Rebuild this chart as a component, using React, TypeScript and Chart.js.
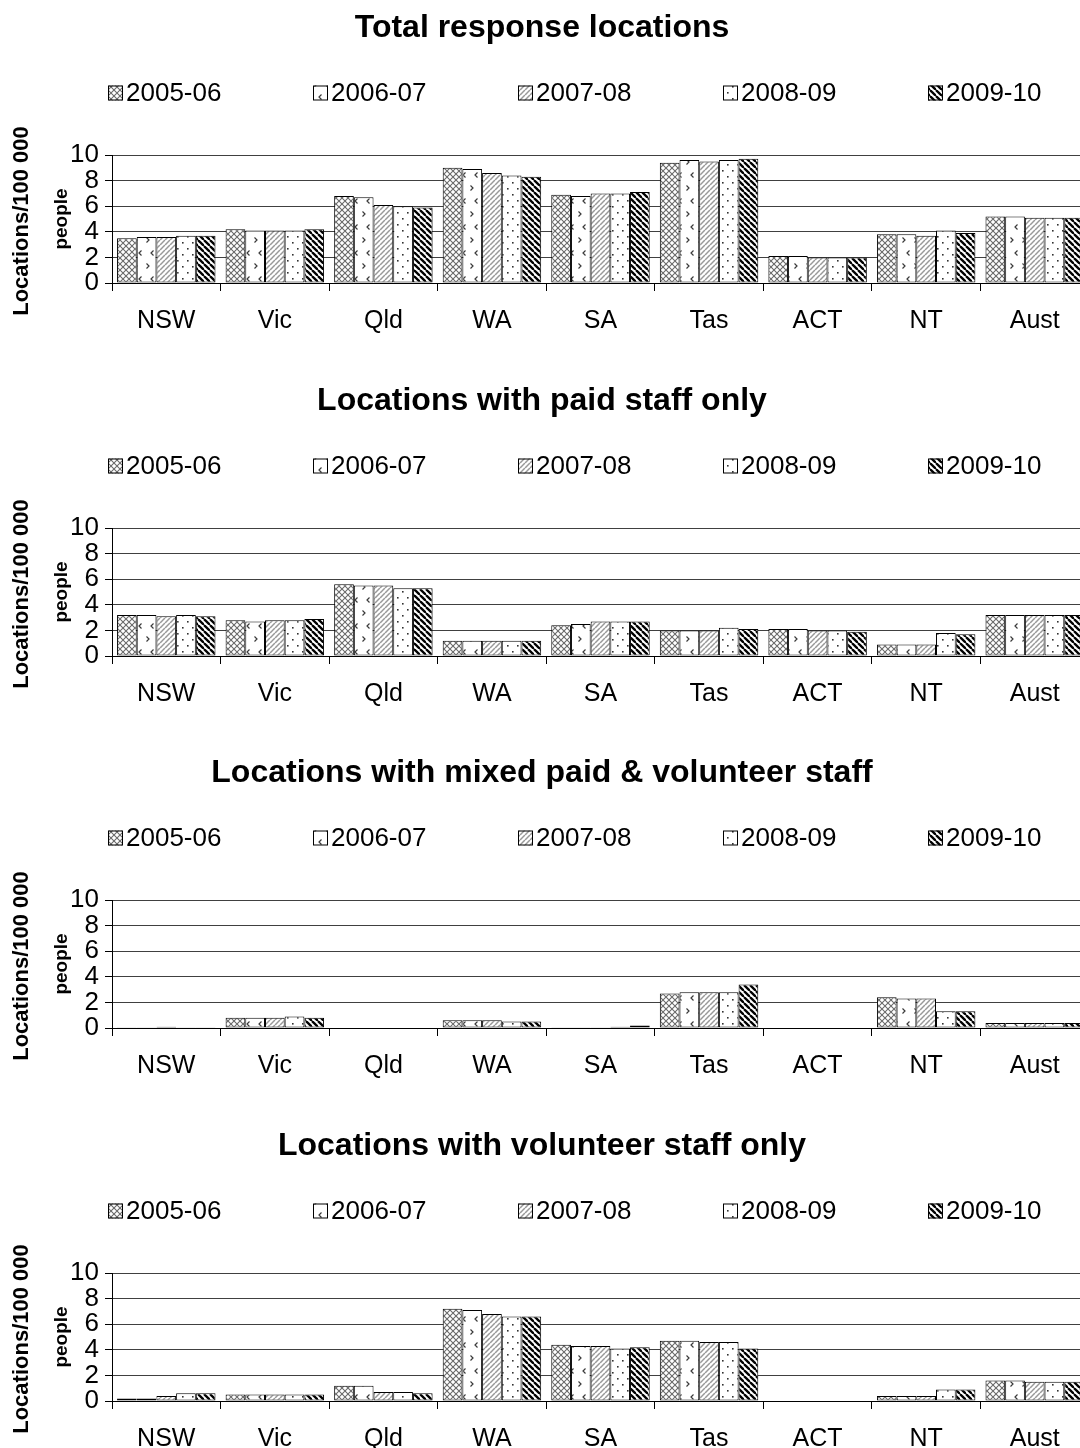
import React, { useEffect, useRef } from "react";
import { Chart, registerables } from "chart.js";

Chart.register(...registerables);

const FONT = '"Liberation Sans", Arial, sans-serif';

const categories = ["NSW", "Vic", "Qld", "WA", "SA", "Tas", "ACT", "NT", "Aust"];
const seriesLabels = ["2005-06", "2006-07", "2007-08", "2008-09", "2009-10"];
const yTicks = [0, 2, 4, 6, 8, 10];
const yTitleMain = "Locations/100 000";
const yTitleSub = "people";

const panelTitles = [
  "Total response locations",
  "Locations with paid staff only",
  "Locations with mixed paid & volunteer staff",
  "Locations with volunteer staff only",
];

// Panel 1: Total response locations
const total0506 = [3.5, 4.2, 6.8, 9.0, 6.9, 9.4, 2.1, 3.8, 5.2];
const total0607 = [3.6, 4.1, 6.7, 8.9, 6.8, 9.6, 2.1, 3.8, 5.2];
const total0708 = [3.6, 4.1, 6.1, 8.6, 7.0, 9.5, 2.0, 3.7, 5.1];
const total0809 = [3.7, 4.1, 6.0, 8.4, 7.0, 9.6, 2.0, 4.1, 5.1];
const total0910 = [3.7, 4.2, 5.9, 8.3, 7.1, 9.7, 2.0, 3.9, 5.1];

// Panel 2: paid staff only
const paid0506 = [3.2, 2.8, 5.6, 1.2, 2.4, 2.0, 2.1, 0.9, 3.2];
const paid0607 = [3.2, 2.7, 5.5, 1.2, 2.5, 2.0, 2.1, 0.9, 3.2];
const paid0708 = [3.1, 2.8, 5.5, 1.2, 2.7, 2.0, 2.0, 0.9, 3.2];
const paid0809 = [3.2, 2.8, 5.3, 1.2, 2.7, 2.2, 2.0, 1.8, 3.2];
const paid0910 = [3.1, 2.9, 5.3, 1.2, 2.7, 2.1, 1.9, 1.7, 3.2];

// Panel 3: mixed paid & volunteer staff
const mixed0506 = [0.05, 0.8, 0, 0.6, 0.05, 2.7, 0, 2.4, 0.4];
const mixed0607 = [0.05, 0.8, 0, 0.6, 0.05, 2.8, 0, 2.3, 0.4];
const mixed0708 = [0.1, 0.8, 0, 0.6, 0.05, 2.8, 0, 2.3, 0.4];
const mixed0809 = [0.05, 0.9, 0, 0.5, 0.1, 2.8, 0, 1.3, 0.4];
const mixed0910 = [0.05, 0.8, 0, 0.5, 0.2, 3.4, 0, 1.3, 0.4];

// Panel 4: volunteer staff only
const vol0506 = [0.2, 0.5, 1.2, 7.2, 4.4, 4.7, 0, 0.4, 1.6];
const vol0607 = [0.2, 0.5, 1.2, 7.1, 4.3, 4.7, 0, 0.4, 1.6];
const vol0708 = [0.4, 0.5, 0.7, 6.8, 4.3, 4.6, 0, 0.4, 1.5];
const vol0809 = [0.6, 0.5, 0.7, 6.6, 4.1, 4.6, 0, 0.9, 1.5];
const vol0910 = [0.6, 0.5, 0.6, 6.6, 4.2, 4.1, 0, 0.9, 1.5];

const panelValues = [
  [total0506, total0607, total0708, total0809, total0910],
  [paid0506, paid0607, paid0708, paid0809, paid0910],
  [mixed0506, mixed0607, mixed0708, mixed0809, mixed0910],
  [vol0506, vol0607, vol0708, vol0809, vol0910],
];

const W = 1110;
const H = 373;
const PANEL_STEP = 372.7;
const PLOT_LEFT = 112;
const PLOT_RIGHT = 1089;
const PLOT_TOP = 155;
const PLOT_BOTTOM = 283;

function makePattern(kind: number): CanvasPattern | string {
  const c = document.createElement("canvas");
  let w = 6;
  let h = 6;
  if (kind === 1) { w = 12; h = 26; }
  if (kind === 2) { w = 5; h = 5; }
  if (kind === 3) { w = 10; h = 12; }
  c.width = w;
  c.height = h;
  const g = c.getContext("2d");
  if (!g) return "#fff";
  g.fillStyle = "#fff";
  g.fillRect(0, 0, w, h);
  if (kind === 0) {
    g.strokeStyle = "#6a6a6a";
    g.lineWidth = 1.1;
    for (const o of [-w, 0, w]) {
      g.beginPath();
      g.moveTo(o, 0); g.lineTo(o + h, h);
      g.moveTo(o, h); g.lineTo(o + h, 0);
      g.stroke();
    }
  } else if (kind === 1) {
    g.strokeStyle = "#3a3a3a";
    g.lineWidth = 1.2;
    g.beginPath();
    g.moveTo(2.5, 3.5); g.lineTo(5, 6); g.lineTo(2.5, 8.5);
    g.moveTo(9.5, 16.5); g.lineTo(7, 19); g.lineTo(9.5, 21.5);
    g.stroke();
  } else if (kind === 2) {
    g.strokeStyle = "#999";
    g.lineWidth = 1.5;
    for (const o of [-w, 0, w]) {
      g.beginPath();
      g.moveTo(o, h); g.lineTo(o + h, 0);
      g.stroke();
    }
  } else if (kind === 3) {
    g.fillStyle = "#333";
    g.fillRect(2, 2, 1.6, 1.6);
    g.fillRect(7, 8, 1.6, 1.6);
  } else if (kind === 4) {
    g.strokeStyle = "#000";
    g.lineWidth = 2.3;
    for (const o of [-w, 0, w]) {
      g.beginPath();
      g.moveTo(o, 0); g.lineTo(o + h, h);
      g.stroke();
    }
  }
  const p = g.createPattern(c, "repeat");
  return p || "#fff";
}

function Panel({ title, values, top }: { title: string; values: number[][]; top: number }) {
  const ref = useRef<HTMLCanvasElement | null>(null);
  useEffect(() => {
    if (!ref.current) return;
    const patterns = seriesLabels.map((_, i) => makePattern(i));
    const decor = {
      id: "decor",
      afterDraw(chart: any) {
        const ctx: CanvasRenderingContext2D = chart.ctx;
        ctx.save();
        ctx.fillStyle = "#000";
        ctx.textAlign = "center";
        ctx.textBaseline = "middle";
        ctx.font = `bold 32px ${FONT}`;
        ctx.fillText(title, 542, 28);

        ctx.font = `26px ${FONT}`;
        ctx.textAlign = "left";
        chart.data.datasets.forEach((ds: any, i: number) => {
          const x = 108 + i * 205;
          const y = 93;
          ctx.fillStyle = ds.backgroundColor;
          ctx.fillRect(x, y - 7.5, 15, 15);
          ctx.strokeStyle = "#000";
          ctx.lineWidth = 1;
          ctx.strokeRect(x + 0.5, y - 7, 14, 14);
          ctx.fillStyle = "#000";
          ctx.fillText(ds.label, x + 18, y + 1);
        });

        ctx.save();
        ctx.translate(22, 221);
        ctx.rotate(-Math.PI / 2);
        ctx.textAlign = "center";
        ctx.font = `bold 22px ${FONT}`;
        ctx.fillText(yTitleMain, 0, 0);
        ctx.restore();

        ctx.save();
        ctx.translate(62, 219);
        ctx.rotate(-Math.PI / 2);
        ctx.textAlign = "center";
        ctx.font = `bold 19px ${FONT}`;
        ctx.fillText(yTitleSub, 0, 0);
        ctx.restore();

        ctx.restore();
      },
    };

    const chart = new Chart(ref.current, {
      type: "bar",
      data: {
        labels: categories,
        datasets: seriesLabels.map((label, i) => ({
          label,
          data: values[i],
          backgroundColor: patterns[i] as any,
          borderColor: "#000",
          borderWidth: 1,
          borderSkipped: false,
          categoryPercentage: 0.907,
          barPercentage: 1,
        })),
      },
      options: {
        responsive: false,
        animation: false,
        devicePixelRatio: 1,
        layout: { padding: { top: PLOT_TOP, right: W - PLOT_RIGHT, left: 0, bottom: 0 } },
        plugins: {
          legend: { display: false },
          title: { display: false },
          tooltip: { enabled: false },
        },
        scales: {
          x: {
            afterFit: (s: any) => { s.height = H - PLOT_BOTTOM; },
            grid: { display: true, drawOnChartArea: false, drawTicks: true, tickLength: 8, color: "#000", offset: true },
            border: { display: true, color: "#000", width: 1 },
            ticks: { color: "#000", font: { family: FONT, size: 25 }, padding: 15, maxRotation: 0, autoSkip: false },
          },
          y: {
            min: 0,
            max: 10,
            afterFit: (s: any) => { s.width = PLOT_LEFT; },
            afterBuildTicks: (s: any) => { s.ticks = yTicks.map((v) => ({ value: v })); },
            ticks: { color: "#000", font: { family: FONT, size: 26 }, padding: 6, autoSkip: false },
            grid: { color: "#404040", tickLength: 7, tickColor: "#000" },
            border: { display: true, color: "#000", width: 1 },
          },
        },
      },
      plugins: [decor],
    });
    return () => chart.destroy();
  }, [title, values]);

  return (
    <div style={{ position: "absolute", left: 0, top, width: W, height: H }}>
      <canvas ref={ref} width={W} height={H} style={{ display: "block", width: W, height: H }} />
    </div>
  );
}

export default function App() {
  return (
    <div style={{ position: "absolute", left: 0, top: 0, width: 1080, height: 1448, overflow: "hidden", background: "#fff" }}>
      {panelTitles.map((t, i) => (
        <Panel key={t} title={t} values={panelValues[i]} top={Math.round(i * PANEL_STEP)} />
      ))}
    </div>
  );
}
